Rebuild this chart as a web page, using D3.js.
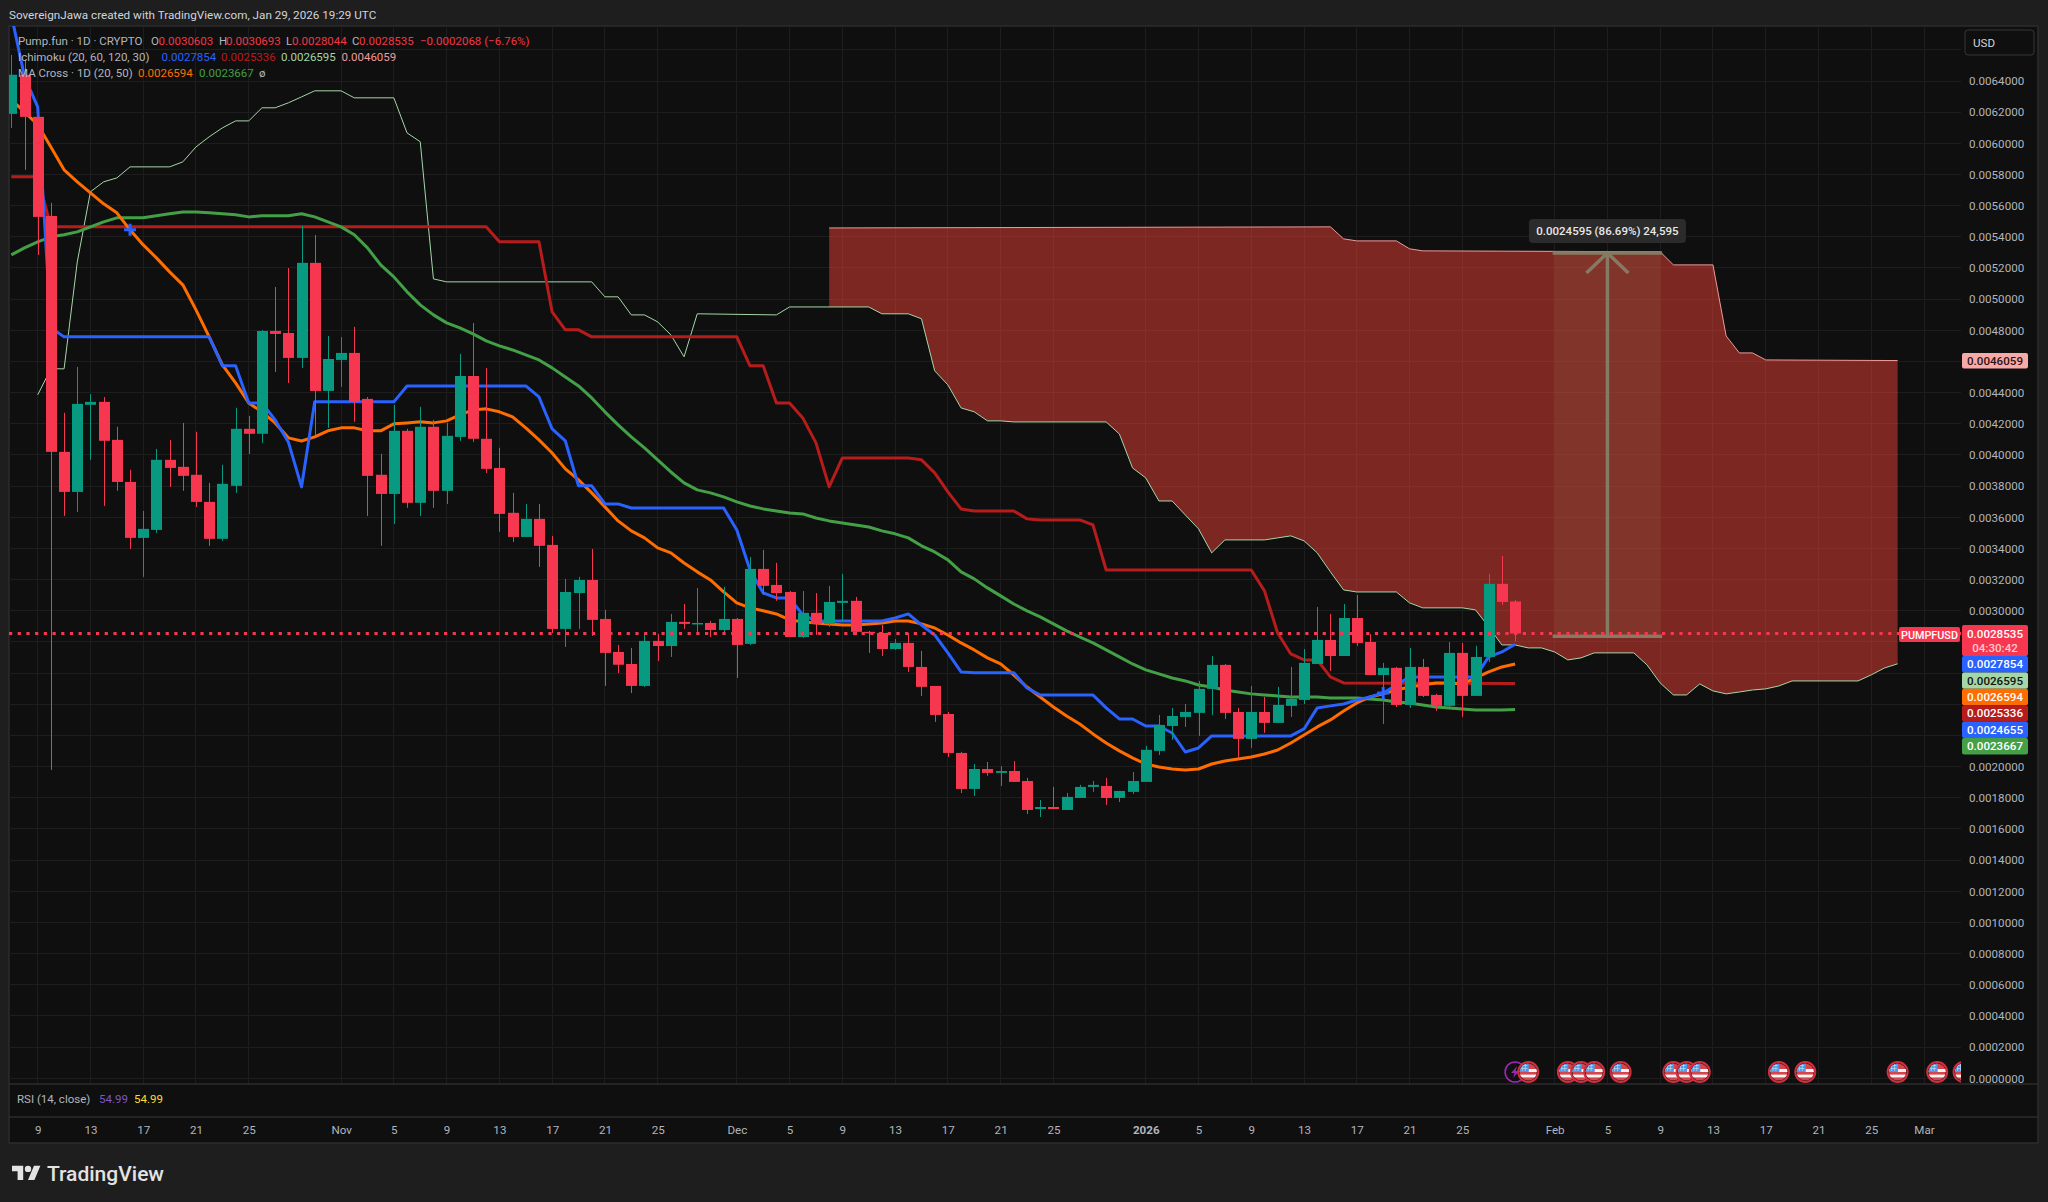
<!DOCTYPE html>
<html><head><meta charset="utf-8">
<style>
html,body{margin:0;padding:0;background:#1e1e1e}
svg{display:block}
text{font-family:Roboto,"Liberation Sans",sans-serif}
.domain{display:none}
</style>
<script src="https://cdn.jsdelivr.net/npm/d3@7/dist/d3.min.js"></script>
</head><body><svg id="c" width="2048" height="1202"></svg>
<script>
// All prices are in millionths of a USD (1000 = 0.0010000)
const firstDay = -2; // candle index 0 is two days before 9 Oct 2025
const opens=[6189,6440,6170,5534,4020,3763,4322,4341,4097,3827,3468,3519,3969,3924,3873,3699,3462,3802,4168,4136,4796,4783,4623,5233,4411,4610,4655,4360,3873,3750,4155,3693,4181,3770,4116,4507,4104,3917,3629,3474,3590,3423,2884,3114,3198,2948,2736,2659,2518,2807,2774,2929,2916,2922,2877,2948,2788,3269,3166,3121,2832,2987,2916,3051,3064,2865,2858,2755,2794,2640,2518,2338,2088,1857,1985,1960,1972,1908,1728,1741,1722,1799,1870,1876,1799,1838,1902,2101,2261,2319,2345,2499,2653,2351,2178,2351,2281,2390,2428,2659,2813,2710,2954,2800,2588,2634,2396,2640,2460,2390,2730,2454,2704,3173,3060];
const highs=[6568,6536,6170,5618,4271,4565,4391,4372,4181,3905,3641,4039,4097,4206,4149,3821,3937,4303,4251,4802,5078,5200,5470,5412,4764,4757,4822,4372,4007,4322,4168,4309,4226,4206,4648,4847,4558,4046,3757,3686,3686,3481,3205,3218,3397,3006,2781,2762,2852,2852,2980,3044,3147,2935,3154,2954,3346,3391,3308,3127,3127,3114,3160,3237,3089,2871,2909,2819,2858,2743,2518,2351,2095,2017,2030,2004,2036,1928,1786,1870,1831,1883,1908,1928,1844,1966,2133,2332,2377,2402,2550,2710,2659,2377,2518,2447,2512,2640,2755,3025,2980,3044,3102,2851,2666,2640,2762,2691,2467,2800,2794,2775,3237,3352,3069];
const lows=[6099,5830,5284,1979,3609,3635,3969,3673,3770,3397,3218,3500,3795,3770,3667,3417,3449,3757,4007,4078,4533,4462,4558,4129,4174,4437,4213,3609,3417,3558,3661,3609,3661,3686,4091,4084,3885,3507,3442,3474,3282,2858,2768,2884,2839,2518,2601,2472,2512,2678,2704,2884,2858,2832,2858,2569,2781,3102,3064,2832,2826,2845,2897,2929,2845,2730,2710,2749,2608,2454,2287,2062,1831,1812,1941,1876,1902,1696,1677,1728,1722,1799,1838,1754,1773,1825,1902,2075,2172,2255,2197,2332,2306,2056,2120,2217,2281,2319,2402,2659,2614,2710,2775,2588,2274,2383,2377,2447,2358,2383,2319,2454,2672,3038,2804];
const closes=[6440,6170,5528,4020,3763,4328,4341,4091,3827,3468,3526,3969,3917,3866,3699,3462,3815,4168,4136,4796,4777,4623,5233,4411,4616,4655,4341,3866,3750,4155,3693,4181,3770,4123,4507,4104,3911,3622,3474,3590,3417,2884,3121,3198,2942,2730,2654,2518,2807,2774,2929,2916,2922,2877,2948,2781,3269,3160,3114,2832,2987,2916,3057,3064,2865,2858,2755,2794,2640,2512,2332,2088,1857,1985,1960,1972,1902,1722,1741,1728,1806,1870,1883,1799,1844,1908,2108,2268,2325,2351,2499,2653,2345,2178,2351,2281,2396,2435,2666,2813,2710,2954,2794,2588,2634,2396,2640,2454,2390,2730,2454,2704,3173,3057,2854];
const ma20=[6279,6202,6119,5977,5830,5753,5682,5612,5554,5445,5348,5265,5175,5092,4931,4758,4578,4463,4334,4277,4206,4110,4090,4116,4155,4174,4174,4155,4155,4200,4206,4213,4206,4219,4257,4289,4296,4277,4245,4174,4097,4013,3911,3840,3757,3667,3577,3513,3468,3404,3372,3307,3250,3198,3121,3051,3019,3000,2980,2942,2929,2922,2916,2909,2909,2916,2922,2935,2935,2916,2890,2845,2794,2749,2698,2659,2588,2511,2447,2383,2325,2274,2210,2152,2101,2056,2017,1998,1985,1979,1985,2017,2036,2049,2062,2081,2107,2152,2203,2255,2300,2357,2409,2447,2467,2492,2511,2524,2537,2537,2531,2569,2608,2640,2659];
const ma50=[5284,5329,5368,5400,5413,5432,5464,5496,5522,5522,5522,5535,5548,5560,5560,5554,5548,5541,5528,5535,5535,5535,5548,5528,5496,5464,5413,5329,5220,5143,5047,4963,4899,4848,4816,4777,4732,4700,4674,4642,4610,4559,4501,4443,4366,4277,4193,4116,4046,3968,3891,3821,3776,3757,3731,3699,3673,3654,3641,3628,3622,3596,3577,3564,3551,3538,3513,3494,3468,3417,3378,3327,3250,3205,3147,3096,3044,3000,2961,2916,2871,2832,2794,2749,2704,2659,2621,2595,2569,2550,2524,2511,2492,2479,2467,2460,2454,2447,2447,2447,2441,2441,2441,2434,2428,2415,2409,2396,2383,2377,2370,2364,2364,2364,2367];
// Ichimoku lines: day offsets from 9 Oct 2025 at each vertex, with their values
const tenkanDays=[-2,-1,0,1,2,13,14,15,16,17,18,19,20,21,27,28,37,38,39,40,41,42,43,44,45,52,53,54,55,56,57,58,59,64,65,66,67,68,69,70,71,74,75,76,80,81,82,83,84,85,86,87,88,89,95,96,97,98,99,100,101,102,103,104,109,110,111,112];
const tenkanVals=[6825,6427,6234,4816,4758,4758,4572,4572,4334,4334,4225,4084,3795,4341,4341,4443,4443,4373,4167,4090,3802,3802,3686,3686,3660,3660,3519,3262,3115,3083,3083,2974,2935,2935,2954,2980,2909,2845,2730,2608,2602,2602,2505,2460,2460,2377,2306,2306,2261,2261,2216,2094,2120,2197,2197,2242,2377,2390,2402,2428,2447,2473,2524,2576,2576,2704,2736,2785];
const kijunDays=[-2,0,1,34,35,38,39,40,41,42,53,54,55,56,57,58,59,60,61,66,67,68,69,70,71,74,75,76,79,80,81,92,93,94,95,96,97,98,99,112];
const kijunVals=[5785,5785,5464,5464,5368,5368,4918,4803,4803,4758,4758,4572,4572,4334,4334,4238,4078,3795,3981,3981,3969,3885,3763,3654,3641,3641,3590,3583,3583,3551,3262,3262,3128,2858,2723,2685,2685,2576,2537,2534];
const spanADays=[0,1,2,3,4,5,6,7,10,11,12,13,14,15,16,17,18,19,20,21,23,24,27,28,29,30,31,42,43,44,45,46,47,48,49,50,56,57,63,64,66,67,68,69,70,71,72,73,74,81,82,83,84,85,86,87,88,89,90,93,94,95,96,97,98,99,100,103,104,105,108,109,110,111,112,113,114,115,116,117,118,121,122,123,124,125,126,127,128,129,130,131,132,133,138,139,140,141];
const spanAVals=[4386,4553,4553,5239,5689,5753,5778,5849,5849,5881,5977,6042,6099,6144,6144,6228,6228,6260,6298,6337,6337,6292,6292,6067,6010,5130,5111,5111,5015,5015,4899,4899,4854,4771,4630,4906,4899,4950,4950,4906,4906,4874,4540,4450,4302,4277,4219,4219,4212,4212,4135,3917,3853,3705,3705,3615,3526,3372,3455,3455,3468,3481,3449,3372,3250,3134,3121,3121,3051,3019,3019,3006,2897,2781,2781,2762,2762,2736,2685,2698,2730,2730,2653,2537,2460,2460,2531,2486,2467,2479,2492,2499,2518,2550,2550,2589,2633,2660];
const spanBDays=[60,98,99,100,103,104,105,123,124,127,128,129,130,131,141];
const spanBVals=[5457,5464,5387,5374,5374,5323,5310,5304,5220,5220,4764,4655,4655,4610,4606];
const crossDays=[7,102];
const crossVals=[5445,2473];
const lastPrice=2854;
const rangeDays=[115,123];
const rangePrices=[2837,5296];
const priceTicks=[0,200,400,600,800,1000,1200,1400,1600,1800,2000,3000,3200,3400,3600,3800,4000,4200,4400,4800,5000,5200,5400,5600,5800,6000,6200,6400];
const gridPrices=[0,200,400,600,800,1000,1200,1400,1600,1800,2000,2200,2400,2600,2800,3000,3200,3400,3600,3800,4000,4200,4400,4600,4800,5000,5200,5400,5600,5800,6000,6200,6400,6600];
const tickLabels=["9","13","17","21","25","Nov","5","9","13","17","21","25","Dec","5","9","13","17","21","25","2026","5","9","13","17","21","25","Feb","5","9","13","17","21","25","Mar"];
const tickDays=[0,4,8,12,16,23,27,31,35,39,43,47,53,57,61,65,69,73,77,84,88,92,96,100,104,108,115,119,123,127,131,135,139,143];
const flagDays=[113,116,117,118,120,124,125,126,132,134,141,144,146];
const lightningDays=[112];
const tagValues=["0.0027854","0.0026595","0.0026594","0.0025336","0.0024655","0.0023667"];
const tagFills=["#2962ff","#a5d6a7","#ff6d00","#b71c1c","#2962ff","#43a047"];

const C={bg:"#1e1e1e",pane:"#0f0f0f",up:"#089981",down:"#f7374f",grid:"#1d1d1d",frame:"#2c2c2c",txt:"#b2b5be"};
const L=9,R=1961,T=26,B=1084,AX=1117,BOT=1143,RE=2038;
const start=new Date(Date.UTC(2025,9,9));
const day=d=>d3.utcDay.offset(start,d);
const x=d3.scaleUtc().domain([day(0),day(143)]).range([37.7,1924]);
const y=d3.scaleLinear().domain([0,6400]).range([1078.3,81]);
const svg=d3.select("#c");
svg.append("rect").attr("width",2048).attr("height",1202).attr("fill",C.bg);
svg.append("rect").attr("x",L).attr("y",T).attr("width",RE-L).attr("height",BOT-T).attr("fill",C.pane).attr("stroke",C.frame).attr("stroke-width",1.5);
svg.append("clipPath").attr("id","pane").append("rect").attr("x",L).attr("y",T).attr("width",R-L).attr("height",B-T);

// grid
const grid=svg.append("g").attr("stroke",C.grid).attr("stroke-width",1).attr("shape-rendering","crispEdges");
grid.selectAll(".h").data(gridPrices).join("line").attr("x1",L).attr("x2",R).attr("y1",d=>y(d)).attr("y2",d=>y(d));
grid.selectAll(".v").data(tickDays).join("line").attr("x1",d=>x(day(d))).attr("x2",d=>x(day(d))).attr("y1",T).attr("y2",B);

// separators
[B,AX].forEach(v=>svg.append("line").attr("x1",L).attr("x2",RE).attr("y1",v).attr("y2",v).attr("stroke",C.frame).attr("stroke-width",1.5));

const plot=svg.append("g").attr("clip-path","url(#pane)");

// cloud
const interp=(days,vals,d)=>{const i=days.findIndex(v=>v>=d);if(days[i]===d)return vals[i];const t=(d-days[i-1])/(days[i]-days[i-1]);return vals[i-1]+t*(vals[i]-vals[i-1]);};
const cloudDays=d3.range(60,142);
plot.append("path").attr("fill","rgba(244,67,54,0.48)")
  .attr("d",d3.area().x(d=>x(day(d))).y0(d=>y(interp(spanADays,spanAVals,d))).y1(d=>y(interp(spanBDays,spanBVals,d)))(cloudDays));

// lines
const pair=(days,vals)=>days.map((d,i)=>[d,vals[i]]);
const lineGen=d3.line().x(d=>x(day(d[0]))).y(d=>y(d[1]));
const candleDays=opens.map((_,i)=>firstDay+i);
const drawLine=(data,color,w)=>plot.append("path").attr("d",lineGen(data)).attr("fill","none").attr("stroke",color).attr("stroke-width",w).attr("stroke-linejoin","round");
drawLine(pair(spanADays,spanAVals),"#a5d6a7",1);
drawLine(pair(spanBDays,spanBVals),"#ef9a9a",1);
drawLine(pair(kijunDays,kijunVals),"#b71c1c",3);
drawLine(pair(candleDays,ma50),"#43a047",3);
drawLine(pair(candleDays,ma20),"#ff6d00",3);
drawLine(pair(tenkanDays,tenkanVals),"#2962ff",3);
crossDays.forEach((d,i)=>{
  const cx=x(day(d)),cy=y(crossVals[i]);
  plot.append("path").attr("d",`M${cx-6},${cy}H${cx+6}M${cx},${cy-6}V${cy+6}`).attr("stroke","#2962ff").attr("stroke-width",3).attr("fill","none");
});

// candles
const gC=plot.append("g");
candleDays.forEach((d,i)=>{
  const up=closes[i]>=opens[i], col=up?C.up:C.down, cx=Math.round(x(day(d)))+0.5;
  gC.append("line").attr("x1",cx).attr("x2",cx).attr("y1",y(highs[i])).attr("y2",y(lows[i])).attr("stroke",col).attr("stroke-width",1);
  const a=y(Math.max(opens[i],closes[i])),b=y(Math.min(opens[i],closes[i]));
  gC.append("rect").attr("x",cx-5.5).attr("width",11).attr("y",a).attr("height",Math.max(b-a,1.5)).attr("fill",col);
});

// price range drawing
const rx0=x(day(rangeDays[0])),rx1=x(day(rangeDays[1])),ry0=y(rangePrices[0]),ry1=y(rangePrices[1]),rc=(rx0+rx1)/2;
const rg=plot.append("g");
rg.append("rect").attr("x",rx0).attr("width",rx1-rx0).attr("y",ry1).attr("height",ry0-ry1).attr("fill","rgba(166,148,100,0.13)");
rg.append("path").attr("fill","none").attr("stroke","#857a63").attr("stroke-width",3.5)
  .attr("d",`M${rx0-2},${ry0}H${rx1+2}M${rx0-2},${ry1}H${rx1+2}M${rc},${ry0}V${ry1}M${rc-21},${ry1+20}L${rc},${ry1}L${rc+21},${ry1+20}`);

// last price dotted line
plot.append("line").attr("x1",L).attr("x2",R).attr("y1",y(lastPrice)).attr("y2",y(lastPrice)).attr("stroke","#f7374f").attr("stroke-width",3).attr("stroke-dasharray","3.2 5.5");

// range label
const lg=svg.append("g");
lg.append("rect").attr("x",rc-78.5).attr("y",219).attr("width",157).attr("height",24).attr("rx",4).attr("fill","#2b2b2b");
lg.append("text").attr("x",rc).attr("y",235).attr("text-anchor","middle").attr("fill","#e8e8e8").attr("font-size",11.5).attr("font-weight",500).text("0.0024595 (86.69%) 24,595");

// events
const defs=svg.append("defs");
defs.append("clipPath").attr("id","flagc").append("circle").attr("r",8.6);
const ev=plot.append("g");
lightningDays.forEach(d=>{
  const g=ev.append("g").attr("transform",`translate(${x(day(d))},1072)`);
  g.append("circle").attr("r",10).attr("fill",C.pane).attr("stroke","#9c27b0").attr("stroke-width",1.6);
  g.append("path").attr("d","M2,-6L-4,1H-0.5L-2,6L4,-1H0.5Z").attr("fill","#9c27b0");
});
flagDays.forEach(d=>{
  const g=ev.append("g").attr("transform",`translate(${x(day(d))},1072)`);
  g.append("circle").attr("r",10).attr("fill","#111").attr("stroke","#d12f3e").attr("stroke-width",2);
  const f=g.append("g").attr("clip-path","url(#flagc)");
  f.append("rect").attr("x",-9).attr("y",-9).attr("width",18).attr("height",18).attr("fill","#d8444c");
  f.append("rect").attr("x",-9).attr("y",-3).attr("width",18).attr("height",3).attr("fill","#f5f5f5");
  f.append("rect").attr("x",-9).attr("y",2.6).attr("width",18).attr("height",2.8).attr("fill","#f5f5f5");
  f.append("rect").attr("x",-9).attr("y",-9).attr("width",9.5).attr("height",9).attr("fill","#4d9be6");
  f.append("path").attr("d","M-7,-6.5H-1M-7,-3.5H-1M-6,-8V-1M-3,-8V-1").attr("stroke","#cfe4fa").attr("stroke-width",.6);
});

// axes
const ya=svg.append("g").attr("transform",`translate(${R},0)`).call(d3.axisRight(y).tickValues(priceTicks).tickSize(0).tickPadding(8).tickFormat(v=>(v*1e-6).toFixed(7)));
ya.selectAll("text").attr("fill",C.txt).attr("font-size",11.6).attr("font-family","Roboto");
const xa=svg.append("g").attr("transform",`translate(0,${AX})`).call(d3.axisBottom(x).tickValues(tickDays.map(day)).tickSize(0).tickPadding(9).tickFormat((v,i)=>tickLabels[i]));
xa.selectAll("text").attr("fill",C.txt).attr("font-size",11.6).attr("font-family","Roboto").attr("font-weight",(d,i)=>tickLabels[i]==="2026"?700:400);

// price tags
const tag=(x0,y0,w,h,fill)=>svg.append("rect").attr("x",x0).attr("y",y0).attr("width",w).attr("height",h).attr("rx",2).attr("fill",fill);
const tagText=(tx,ty,s,fill,anchor)=>svg.append("text").attr("x",tx).attr("y",ty).attr("fill",fill).attr("font-size",11.6).attr("font-weight",500).attr("text-anchor",anchor||"middle").text(s);
tag(1962,353,66,15.5,"#f7a9a7"); tagText(1995,365,"0.0046059","#2a1212");
tag(1899,627,61,15,"#f7374f"); tagText(1929.5,638.5,"PUMPFUSD","#fff").attr("font-size",10.8);
tag(1962,625,66,31,"#f7374f"); tagText(1995,638,"0.0028535","#fff"); tagText(1995,651.5,"04:30:42","#ffc9cf");
tagValues.forEach((v,i)=>{
  const ty=656+i*16.4;
  tag(1962,ty,66,16.4,tagFills[i]);
  tagText(1995,ty+12.2,v,tagFills[i]==="#a5d6a7"?"#111":"#fff");
});

// USD box
svg.append("rect").attr("x",1965).attr("y",30).attr("width",69).attr("height",25).attr("rx",3).attr("fill",C.pane).attr("stroke","#34373d");
svg.append("text").attr("x",1973).attr("y",47).attr("fill","#d1d4dc").attr("font-size",11.6).text("USD");

// header and legends
svg.append("text").attr("x",9).attr("y",18.5).attr("fill","#d1d4dc").attr("font-size",11.7).text("SovereignJawa created with TradingView.com, Jan 29, 2026 19:29 UTC");
const seg=(px,py,s,fill)=>svg.append("text").attr("x",px).attr("y",py).attr("fill",fill).attr("font-size",11.5).text(s);
const lab="#b2b5be",rd="#f23645";
seg(18,45,"Pump.fun · 1D · CRYPTO",lab);
seg(151,45,"O",lab);seg(158.5,45,"0.0030603",rd);
seg(219,45,"H",lab);seg(226,45,"0.0030693",rd);
seg(286,45,"L",lab);seg(292,45,"0.0028044",rd);
seg(352,45,"C",lab);seg(359,45,"0.0028535",rd);
seg(420,45,"−0.0002068 (−6.76%)",rd);
seg(18,61,"Ichimoku (20, 60, 120, 30)",lab);
seg(161.5,61,"0.0027854","#2962ff");seg(221,61,"0.0025336","#b71c1c");seg(281,61,"0.0026595","#a5d6a7");seg(341.5,61,"0.0046059","#ef9a9a");
seg(18,77,"MA Cross · 1D (20, 50)",lab);
seg(138,77,"0.0026594","#ff6d00");seg(199,77,"0.0023667","#43a047");seg(259,77,"ø",lab);
seg(17,1103,"RSI (14, close)",lab);seg(99,1103,"54.99","#7e57c2");seg(134,1103,"54.99","#fdd835");

// logo
const logo=svg.append("g").attr("transform","translate(12,1162.5) scale(0.8)").attr("fill","#e3e3e3");
logo.append("path").attr("d","M14 22H7V11H0V4h14v18zM28 22h-8l7.5-18h8L28 22z");
logo.append("circle").attr("cx",20).attr("cy",8).attr("r",4);
svg.append("text").attr("x",47).attr("y",1181).attr("fill","#e3e3e3").attr("font-size",21).attr("font-weight",500).attr("font-family","Inter").text("TradingView");
</script></body></html>
